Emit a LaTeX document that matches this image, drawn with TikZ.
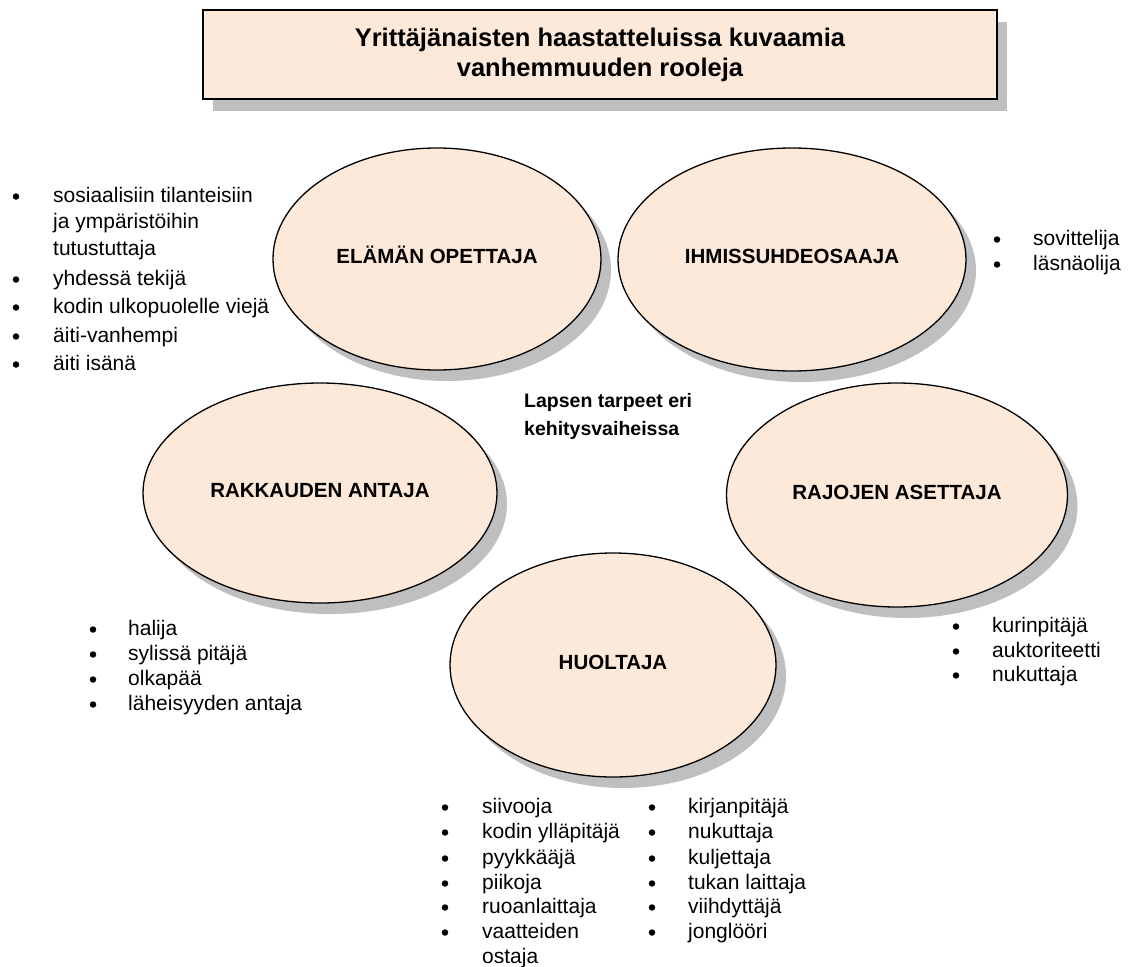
\documentclass[tikz,border=0pt]{standalone}
\usepackage{fontspec}
\setmainfont{Liberation Sans}
\usetikzlibrary{shapes.geometric,shadows}
\definecolor{peach}{RGB}{253,233,217}
\definecolor{shade}{RGB}{191,191,191}
\begin{document}
\begin{tikzpicture}[x=1pt,y=-1pt,
  role/.style={ellipse, draw=black, line width=1.3pt, fill=peach, inner sep=0pt,
    font=\bfseries\fontsize{20.5}{24}\selectfont, text height=11.5pt, text depth=3pt,
    drop shadow={shadow xshift=10pt, shadow yshift=-11pt, fill=shade, opacity=1}},
  titlebox/.style={rectangle, draw=black, line width=1.3pt, fill=peach, inner sep=0pt,
    minimum width=794pt, minimum height=89pt, align=center,
    font=\bfseries\fontsize{25.5}{30}\selectfont,
    drop shadow={shadow xshift=10pt, shadow yshift=-12pt, fill=shade, opacity=1}},
  item/.style={anchor=base west, inner sep=0pt, font=\fontsize{21}{24}\selectfont},
  dot/.style={circle, fill=black, inner sep=0pt, minimum size=6.5pt},
  centre/.style={anchor=base west, inner sep=0pt, font=\bfseries\fontsize{19.5}{24}\selectfont}]
\useasboundingbox (0,0) rectangle (1128,967);

% title
\node[titlebox] (title) at (600,54.5) {Yrittäjänaisten haastatteluissa kuvaamia\\vanhemmuuden rooleja};

% ellipses
\node[role, minimum width=328pt, minimum height=222pt] (elama) at (437,259) {ELÄMÄN OPETTAJA};
\node[role, minimum width=348pt, minimum height=223pt] (ihmis) at (792,259.5) {IHMISSUHDEOSAAJA};
\node[role, minimum width=354pt, minimum height=220pt] (rakk) at (320,493) {RAKKAUDEN ANTAJA};
\node[role, minimum width=341pt, minimum height=224pt] (raj) at (897,495) {RAJOJEN ASETTAJA};
\node[role, minimum width=326pt, minimum height=224pt] (huol) at (613,665) {HUOLTAJA};

% centre text
\node[centre] (c1) at (524,407) {Lapsen tarpeet eri};
\node[centre] (c2) at (524,435) {kehitysvaiheissa};

% left list (ELÄMÄN OPETTAJA)
\node[dot] (lb1) at (16,196.5) {};
\node[item] (l1a) at (53,202) {sosiaalisiin tilanteisiin};
\node[item] (l1b) at (53,228) {ja ympäristöihin};
\node[item] (l1c) at (53,255) {tutustuttaja};
\node[dot] (lb2) at (16,279.5) {};
\node[item] (l2) at (53,285) {yhdessä tekijä};
\node[dot] (lb3) at (16,307.5) {};
\node[item] (l3) at (53,313) {kodin ulkopuolelle viejä};
\node[dot] (lb4) at (16,336.5) {};
\node[item] (l4) at (53,342) {äiti-vanhempi};
\node[dot] (lb5) at (16,364.5) {};
\node[item] (l5) at (53,370) {äiti isänä};

% right list (IHMISSUHDEOSAAJA)
\node[dot] (rb1) at (997,239.5) {};
\node[item] (r1) at (1033,245) {sovittelija};
\node[dot] (rb2) at (997,264.5) {};
\node[item] (r2) at (1033,270) {läsnäolija};

% RAKKAUDEN ANTAJA list
\node[dot] (kb1) at (93,629.5) {};
\node[item] (k1) at (128,635) {halija};
\node[dot] (kb2) at (93,654.5) {};
\node[item] (k2) at (128,660) {sylissä pitäjä};
\node[dot] (kb3) at (93,679.5) {};
\node[item] (k3) at (128,685) {olkapää};
\node[dot] (kb4) at (93,704.5) {};
\node[item] (k4) at (128,710) {läheisyyden antaja};

% RAJOJEN ASETTAJA list
\node[dot] (jb1) at (956,626.5) {};
\node[item] (j1) at (992,632) {kurinpitäjä};
\node[dot] (jb2) at (956,651.5) {};
\node[item] (j2) at (992,657) {auktoriteetti};
\node[dot] (jb3) at (956,675.5) {};
\node[item] (j3) at (992,681) {nukuttaja};

% HUOLTAJA list, column 1
\node[dot] (hb1) at (445,807.5) {};
\node[item] (h1) at (482,813) {siivooja};
\node[dot] (hb2) at (445,832.5) {};
\node[item] (h2) at (482,838) {kodin ylläpitäjä};
\node[dot] (hb3) at (445,858.5) {};
\node[item] (h3) at (482,864) {pyykkääjä};
\node[dot] (hb4) at (445,883.5) {};
\node[item] (h4) at (482,889) {piikoja};
\node[dot] (hb5) at (445,907.5) {};
\node[item] (h5) at (482,913) {ruoanlaittaja};
\node[dot] (hb6) at (445,932.5) {};
\node[item] (h6a) at (482,938) {vaatteiden};
\node[item] (h6b) at (482,963) {ostaja};

% HUOLTAJA list, column 2
\node[dot] (gb1) at (652,807.5) {};
\node[item] (g1) at (688,813) {kirjanpitäjä};
\node[dot] (gb2) at (652,832.5) {};
\node[item] (g2) at (688,838) {nukuttaja};
\node[dot] (gb3) at (652,858.5) {};
\node[item] (g3) at (688,864) {kuljettaja};
\node[dot] (gb4) at (652,883.5) {};
\node[item] (g4) at (688,889) {tukan laittaja};
\node[dot] (gb5) at (652,907.5) {};
\node[item] (g5) at (688,913) {viihdyttäjä};
\node[dot] (gb6) at (652,932.5) {};
\node[item] (g6) at (688,938) {jonglööri};
\end{tikzpicture}
\end{document}
